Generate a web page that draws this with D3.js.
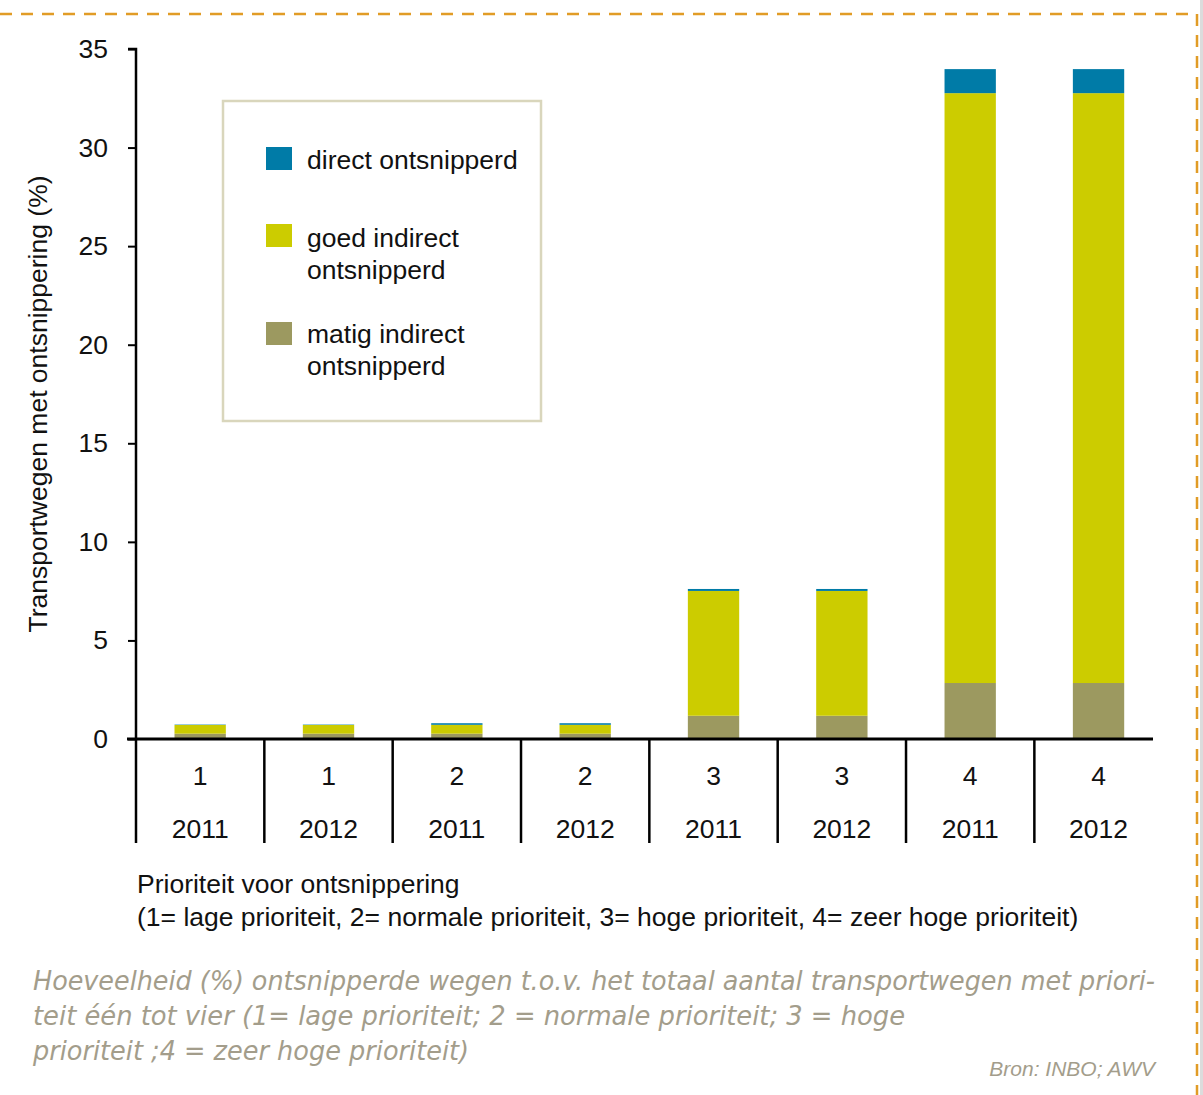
<!DOCTYPE html>
<html><head><meta charset="utf-8">
<script src="https://cdn.jsdelivr.net/npm/d3@7"></script>
<style>
html,body{margin:0;padding:0;background:#fff;}
svg{display:block;font-family:"Liberation Sans",Arial,Helvetica,sans-serif;}
</style></head>
<body>
<script>
const priorities = ["1","1","2","2","3","3","4","4"];
const years = ["2011","2012","2011","2012","2011","2012","2011","2012"];
const matig = [0.27,0.27,0.27,0.27,1.18,1.18,2.84,2.84];
const goed = [0.44,0.44,0.45,0.45,6.33,6.33,29.92,29.92];
const direct = [0.02,0.02,0.08,0.08,0.10,0.10,1.22,1.22];
const seriesNames = ["matig indirect ontsnipperd","goed indirect ontsnipperd","direct ontsnipperd"];
const colors = ["#9c9960","#cccc00","#007ba7"];
const yTicks = [0,5,10,15,20,25,30,35];

const FS = 26.5;
const W = 1203, H = 1095;
const svg = d3.select("body").append("svg").attr("width",W).attr("height",H);

// frame
svg.append("rect").attr("x",1200).attr("y",0).attr("width",3).attr("height",H).attr("fill","#dcdcdc");
svg.append("line").attr("x1",0).attr("x2",1197).attr("y1",14).attr("y2",14)
  .attr("stroke","#e19c26").attr("stroke-width",2.5).attr("stroke-dasharray","12,9");
svg.append("line").attr("x1",1197).attr("x2",1197).attr("y1",14).attr("y2",H)
  .attr("stroke","#e19c26").attr("stroke-width",2.5).attr("stroke-dasharray","12,9");

const x = d3.scaleBand().domain(d3.range(priorities.length)).range([136,1162.7]).padding(0);
const y = d3.scaleLinear().domain([0,35]).range([739,49]);

const rows = priorities.map((p,i)=>({i, matig:matig[i], goed:goed[i], direct:direct[i]}));
const stack = d3.stack().keys(["matig","goed","direct"])(rows);
const bw = x.bandwidth()*0.4;

svg.append("g").selectAll("g").data(stack).join("g").attr("fill",(d,k)=>colors[k])
  .selectAll("rect").data(d=>d).join("rect")
  .attr("x",d=>x(d.data.i)+(x.bandwidth()-bw)/2)
  .attr("width",bw)
  .attr("y",d=>y(d[1]))
  .attr("height",d=>y(d[0])-y(d[1]));

// y axis
const yAxis = d3.axisLeft(y).tickValues(yTicks).tickSize(8).tickPadding(20);
const gy = svg.append("g").attr("transform","translate(136,0)").call(yAxis);
gy.select(".domain").attr("stroke","#000").attr("stroke-width",2.5).attr("d","M-8,49H0V739");
gy.selectAll(".tick line").attr("stroke","#000").attr("stroke-width",2);
gy.selectAll(".tick text").attr("font-size",FS).attr("fill","#111").attr("font-family","Liberation Sans, Arial, sans-serif");

// x axis line
svg.append("line").attr("x1",127).attr("x2",1153).attr("y1",y(0)).attr("y2",y(0))
  .attr("stroke","#000").attr("stroke-width",3);
// dividers
svg.append("g").selectAll("line").data(d3.range(priorities.length)).join("line")
  .attr("x1",d=>x(d)).attr("x2",d=>x(d)).attr("y1",y(0)).attr("y2",843)
  .attr("stroke","#000").attr("stroke-width",2.5);
// labels
const lab = svg.append("g").attr("font-size",FS).attr("fill","#111").attr("text-anchor","middle");
lab.selectAll("text.p").data(priorities).join("text").attr("class","p")
  .attr("x",(d,i)=>x(i)+x.bandwidth()/2).attr("y",785).text(d=>d);
lab.selectAll("text.yr").data(years).join("text").attr("class","yr")
  .attr("x",(d,i)=>x(i)+x.bandwidth()/2).attr("y",838).text(d=>d);

// x title
svg.append("text").attr("x",137).attr("y",893).attr("font-size",FS).attr("fill","#111")
  .text("Prioriteit voor ontsnippering");
svg.append("text").attr("x",137).attr("y",926).attr("font-size",FS).attr("fill","#111")
  .text("(1= lage prioriteit, 2= normale prioriteit, 3= hoge prioriteit, 4= zeer hoge prioriteit)");

// y title
svg.append("text").attr("transform","translate(47,404) rotate(-90)").attr("text-anchor","middle")
  .attr("font-size",FS).attr("fill","#111").text("Transportwegen met ontsnippering (%)");

// legend
const lg = svg.append("g");
lg.append("rect").attr("x",223).attr("y",101).attr("width",318).attr("height",320)
  .attr("fill","#fff").attr("stroke","#d9d6bc").attr("stroke-width",2.5);
const legendItems = [
  {c:colors[2], lines:["direct ontsnipperd"], sy:147, ty:169},
  {c:colors[1], lines:["goed indirect","ontsnipperd"], sy:224, ty:247},
  {c:colors[0], lines:["matig indirect","ontsnipperd"], sy:322, ty:343}
];
legendItems.forEach(it=>{
  lg.append("rect").attr("x",266).attr("y",it.sy).attr("width",26).attr("height",23).attr("fill",it.c);
  it.lines.forEach((t,j)=>{
    lg.append("text").attr("x",307).attr("y",it.ty+j*32).attr("font-size",FS).attr("fill","#111").text(t);
  });
});

// caption
const cap = svg.append("g").attr("fill","#a39d8b").attr("font-style","italic")
  .attr("font-family","'DejaVu Sans Condensed','DejaVu Sans',sans-serif").attr("font-size",26);
cap.append("text").attr("x",33).attr("y",990).attr("textLength",1122).attr("lengthAdjust","spacingAndGlyphs")
  .text("Hoeveelheid (%) ontsnipperde wegen t.o.v. het totaal aantal transportwegen met priori-");
cap.append("text").attr("x",33).attr("y",1025).attr("textLength",872).attr("lengthAdjust","spacingAndGlyphs")
  .text("teit één tot vier (1= lage prioriteit;  2 = normale prioriteit; 3 = hoge");
cap.append("text").attr("x",33).attr("y",1060).attr("textLength",436).attr("lengthAdjust","spacingAndGlyphs")
  .text("prioriteit ;4 = zeer hoge prioriteit)");
cap.append("text").attr("x",1155).attr("y",1076).attr("text-anchor","end").attr("font-size",21)
  .attr("font-family","'Liberation Sans',Arial,sans-serif")
  .text("Bron: INBO; AWV");
</script>
</body></html>
